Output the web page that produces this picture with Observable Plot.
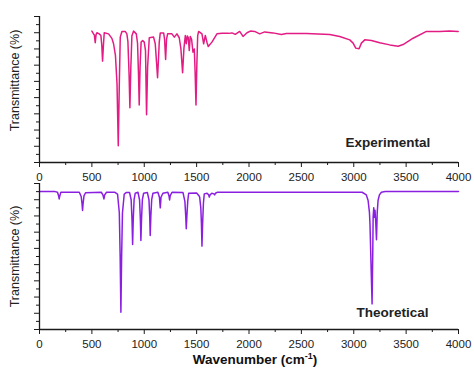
<!DOCTYPE html>
<html><head><meta charset="utf-8">
<script src="https://cdn.jsdelivr.net/npm/d3@7"></script>
<script src="https://cdn.jsdelivr.net/npm/@observablehq/plot@0.6"></script>
<style>
body{margin:0;background:#fff;}
#wrap{position:relative;width:474px;height:370px;}
#wrap svg{position:absolute;left:0;overflow:visible;}
</style></head><body><div id="wrap"></div>
<script>
// Experimental spectrum (wavenumber, transmittance)
const expWn = [500,516,524,532,540,548,570,586,595,602,610,618,659,691,707,725,740,752,762,771,787,818,834,844,855,863,872,882,898,924,936,945,952,960,970,985,1000,1012,1022,1032,1048,1089,1105,1117,1127,1136,1143,1153,1185,1194,1204,1213,1223,1264,1287,1312,1334,1350,1366,1379,1392,1401,1411,1420,1430,1439,1452,1465,1478,1486,1494,1502,1510,1519,1551,1567,1583,1599,1611,1646,1694,1742,1806,1838,1869,1911,1943,1981,2013,2054,2102,2150,2229,2309,2357,2548,2771,2866,2962,2994,3019,3051,3073,3105,3169,3248,3344,3424,3471,3567,3694,3822,3917,3997];
const expT = [81.0,79.3,78.5,73.8,78.8,80.0,79.3,78.3,72.0,62.5,72.0,80.0,79.3,76.5,73.2,66.0,48.5,10.3,48.5,77.3,80.8,80.8,79.3,74.6,54.7,33.7,58.7,78.0,81.0,79.3,73.5,54.7,35.5,58.7,74.2,75.2,74.2,69.0,29.4,58.7,76.9,77.3,73.2,62.0,52.2,64.0,74.0,79.9,79.9,76.0,63.5,76.0,79.3,79.3,77.3,79.3,76.9,70.0,55.3,70.5,78.3,73.2,78.0,77.0,69.0,77.7,76.0,68.0,70.0,55.0,35.5,60.0,78.0,80.8,79.3,73.2,78.3,74.0,71.5,74.2,79.3,79.6,79.6,79.9,79.0,80.8,77.7,80.0,81.0,80.8,79.3,80.5,79.9,78.9,79.5,79.5,78.9,77.7,75.6,73.6,70.5,70.1,73.6,75.6,75.2,73.8,72.5,71.7,72.7,76.6,80.8,80.8,81.0,80.8];

// Theoretical spectrum (wavenumber, transmittance)
const thWn = [0,150,172,182,188,194,204,380,398,406,411,416,425,440,590,605,615,622,640,720,745,762,770,777,784,792,809,830,860,875,883,889,895,903,914,940,955,963,968,974,982,994,1030,1045,1052,1057,1063,1071,1083,1130,1145,1153,1160,1178,1225,1236,1242,1248,1265,1370,1388,1396,1401,1407,1415,1424,1500,1522,1529,1540,1546,1551,1557,1565,1573,1600,1614,1621,1628,1645,1665,1672,1680,1700,3080,3120,3137,3150,3155,3165,3175,3181,3185,3191,3197,3203,3210,3217,3224,3232,3245,3264,3300,4000];
const thT = [85.1,85.0,84.6,82.5,80.5,82.5,84.6,84.6,82.0,77.5,73.4,77.5,82.5,84.3,84.6,83.0,80.5,83.0,84.6,84.6,83.5,72.0,45.0,10.7,45.0,72.0,83.5,84.5,84.4,80.0,68.0,52.4,68.0,80.0,84.0,84.6,80.0,68.0,54.9,68.0,80.0,84.0,84.4,80.0,70.0,57.9,70.0,80.0,84.0,84.6,81.5,75.0,81.5,84.0,84.6,82.5,79.9,82.5,84.6,84.4,79.0,70.0,62.1,70.0,79.0,84.0,84.2,82.5,81.6,75.0,65.0,51.4,65.0,78.0,83.6,84.0,83.0,81.6,83.0,84.0,83.6,83.0,84.0,84.65,84.6,83.0,79.5,72.0,65.0,40.0,15.8,45.0,69.2,75.0,69.2,73.5,66.0,55.3,72.0,79.5,83.0,84.65,85.0,85.06];

const xTicks = [0,500,1000,1500,2000,2500,3000,3500,4000];
const xMinor = [250,750,1250,1750,2250,2750,3250,3750];
const yMajor = [0,10,20,30,40,50,60,70,80,90];
const yMinor = [5,15,25,35,45,55,65,75,85];

const yTitle = "Transmittance (%)";
const xTitle = "Wavenumber (cm-1)";

const FONT = "Arial, 'Liberation Sans', Helvetica, sans-serif";
const AX = "#1a1a1a";

function panel({wn, t, color, name, nameX, nameY, height, mt, mb, top, titleDy, withXTitle}) {
  const data = wn.map((w, i) => ({w, t: t[i]}));
  const marks = [
    Plot.line(data, {x: "w", y: "t", stroke: color, strokeWidth: 1.5, curve: "linear"}),
    Plot.ruleX([0], {stroke: AX, strokeWidth: 1.3}),
    Plot.ruleY([0], {stroke: AX, strokeWidth: 1.3}),
    Plot.axisX({ticks: xTicks, tickSize: 5, tickPadding: 5, tickFormat: d => String(d), label: null, stroke: AX, fill: "#222"}),
    Plot.axisX({ticks: xMinor, tickSize: 3, fill: "none", label: null, stroke: AX}),
    Plot.axisY({ticks: yMajor, tickSize: 5, fill: "none", label: null, stroke: AX}),
    Plot.axisY({ticks: yMinor, tickSize: 3, fill: "none", label: null, stroke: AX}),
    Plot.text([yTitle], {frameAnchor: "left", textAnchor: "middle", rotate: -90, dx: -25, dy: titleDy, text: d => d, fontSize: 12.5, fill: "#222"}),
    Plot.text([name], {x: nameX, y: nameY, text: d => d, textAnchor: "end", fontSize: 13.5, fontWeight: "bold", fill: "#222"})
  ];
  if (withXTitle) {
    marks.push(Plot.text([xTitle], {frameAnchor: "bottom", textAnchor: "middle", dx: 6, dy: 34, text: d => d, fontSize: 13.5, fontWeight: "bold", fill: "#111", className: "xtitle"}));
  }
  const p = Plot.plot({
    width: 474, height,
    marginLeft: 39, marginRight: 16, marginTop: mt, marginBottom: mb,
    x: {domain: [0, 4000]},
    y: {domain: [0, 90]},
    style: {fontFamily: FONT, fontSize: "11.5px", background: "transparent", overflow: "visible", color: "#222"},
    marks
  });
  p.style.top = top + "px";
  return p;
}

const wrap = document.getElementById("wrap");
wrap.appendChild(panel({wn: expWn, t: expT, color: "#e31c84", name: "Experimental", nameX: 3730, nameY: 12.3, height: 183, mt: 16, mb: 21, top: 0, titleDy: -9, withXTitle: false}));
const bottom = panel({wn: thWn, t: thT, color: "#8b1fe0", name: "Theoretical", nameX: 3714, nameY: 10.2, height: 187, mt: 0, mb: 41, top: 183, titleDy: 0, withXTitle: true});
wrap.appendChild(bottom);

// superscript for cm-1
d3.select(bottom).selectAll("g.xtitle text, .xtitle text").each(function() {
  const el = d3.select(this);
  el.text(null);
  el.append("tspan").text("Wavenumber (cm");
  el.append("tspan").attr("dy", "-5").attr("font-size", "9").text("-1");
  el.append("tspan").attr("dy", "5").text(")");
});
</script></body></html>
